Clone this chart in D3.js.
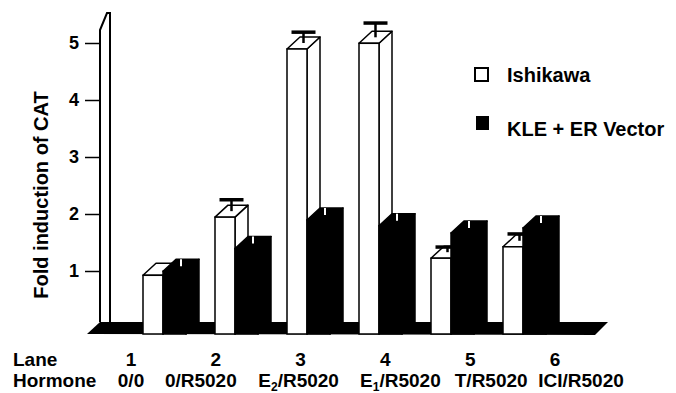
<!DOCTYPE html>
<html>
<head>
<meta charset="utf-8">
<script src="https://cdn.jsdelivr.net/npm/d3@7/dist/d3.min.js"></script>
<style>
  html, body { margin: 0; padding: 0; background: #fff; }
  svg { display: block; font-family: "Liberation Sans", Arial, sans-serif; font-weight: bold; }
</style>
</head>
<body>
<div id="chart"></div>
<script>
// lanes and hormone treatments
const lanes = ['1', '2', '3', '4', '5', '6'];
const hormones = ['0/0', '0/R5020', 'E_2/R5020', 'E_1/R5020', 'T/R5020', 'ICI/R5020'];

// fold induction of CAT
const ishikawa = [1.03, 2.05, 5.0, 5.1, 1.33, 1.53];
const ishikawaErr = [0, 0.2, 0.19, 0.25, 0.09, 0.12];
const kleER = [1.1, 1.5, 2.0, 1.9, 1.77, 1.86];

const yTicks = [1, 2, 3, 4, 5];
const seriesNames = ['Ishikawa', 'KLE + ER Vector'];

const width = 676, height = 393;
const dx = 13, dy = 12;          // 3d depth offset
const floorY = 334;              // front edge of the floor
const whiteW = 20, blackW = 23;

const svg = d3.select('#chart').append('svg')
  .attr('width', width)
  .attr('height', height);

// front plane scale, ticks sit half way back
const y = d3.scaleLinear().domain([0, 5]).range([floorY, floorY - 285]);
const yMid = d3.scaleLinear().domain([0, 5]).range([floorY - dy / 2, floorY - dy / 2 - 285]);

const x = d3.scaleBand().domain(lanes).range([128.5, 560.5]);
const labelX = d3.scalePoint().domain(lanes).range([131, 555]);

// floor
svg.append('path')
  .attr('d', `M87,${floorY} L${100},${floorY - dy} L608,${floorY - dy} L595,${floorY + 1} Z`)
  .attr('fill', '#000');

// thin 3d wall for the y axis
svg.append('path')
  .attr('d', `M100,${floorY - dy} L100,30 L107,13 L110,13 L110,${floorY - dy}`)
  .attr('fill', '#fff')
  .attr('stroke', '#000')
  .attr('stroke-width', 2);

const axis = svg.append('g')
  .attr('transform', 'translate(100,0)')
  .call(d3.axisLeft(yMid).tickValues(yTicks).tickSize(15).tickPadding(6).tickFormat(d3.format('d')));
axis.select('.domain').remove();
axis.selectAll('.tick line').attr('stroke-width', 1.5);
axis.selectAll('.tick text')
  .attr('font-size', 18)
  .attr('font-family', '"Liberation Sans", Arial, sans-serif')
  .attr('font-weight', 'bold')
  .attr('fill', '#000');

svg.append('text')
  .attr('transform', 'translate(41,195) rotate(-90)')
  .attr('text-anchor', 'middle')
  .attr('dominant-baseline', 'central')
  .attr('font-size', 20)
  .text('Fold induction of CAT');

function box(g, x0, w, v, fill) {
  const top = y(v);
  g.append('path') // side
    .attr('d', `M${x0 + w},${floorY} L${x0 + w + dx},${floorY - dy} L${x0 + w + dx},${top - dy} L${x0 + w},${top} Z`)
    .attr('fill', fill).attr('stroke', '#000').attr('stroke-width', 1.5).attr('stroke-linejoin', 'round');
  g.append('path') // top
    .attr('d', `M${x0},${top} L${x0 + dx},${top - dy} L${x0 + w + dx},${top - dy} L${x0 + w},${top} Z`)
    .attr('fill', fill).attr('stroke', '#000').attr('stroke-width', 1.5).attr('stroke-linejoin', 'round');
  g.append('rect') // front
    .attr('x', x0).attr('y', top)
    .attr('width', w).attr('height', floorY - top)
    .attr('fill', fill).attr('stroke', '#000').attr('stroke-width', 1.5);
}

lanes.forEach((lane, i) => {
  const g = svg.append('g');
  const xw = x(lane) + 14.5;
  const xb = xw + whiteW;
  box(g, xw, whiteW, ishikawa[i], '#fff');
  box(g, xb, blackW, kleER[i], '#000');

  // small white notch on the black bar top
  const cb = xb + blackW / 2 + dx / 2;
  g.append('line')
    .attr('x1', cb).attr('x2', cb)
    .attr('y1', y(kleER[i]) - dy).attr('y2', y(kleER[i]) - 5)
    .attr('stroke', '#fff').attr('stroke-width', 2);

  // error bar on the white bar
  if (ishikawaErr[i] > 0) {
    const cx = xw + whiteW / 2 + dx / 2;
    const cy = y(ishikawa[i]) - dy / 2;
    const ty = y(ishikawa[i] + ishikawaErr[i]) - dy / 2;
    g.append('line')
      .attr('x1', cx).attr('x2', cx).attr('y1', cy).attr('y2', ty)
      .attr('stroke', '#000').attr('stroke-width', 2.5);
    g.append('line')
      .attr('x1', cx - 12).attr('x2', cx + 12).attr('y1', ty).attr('y2', ty)
      .attr('stroke', '#000').attr('stroke-width', 3.5);
  }
});

// category labels
svg.append('text').attr('x', 13).attr('y', 366).attr('font-size', 19).text('Lane');
svg.append('text').attr('x', 13).attr('y', 387).attr('font-size', 19).text('Hormone');

svg.selectAll('.lane-num')
  .data(lanes)
  .enter().append('text')
  .attr('class', 'lane-num')
  .attr('x', d => labelX(d))
  .attr('y', 366)
  .attr('text-anchor', 'middle')
  .attr('font-size', 19)
  .text(d => d);

const hormoneShift = [0, -15, -2, 15, 21, 26];
const hl = svg.selectAll('.hormone')
  .data(hormones)
  .enter().append('text')
  .attr('class', 'hormone')
  .attr('x', (d, i) => labelX(lanes[i]) + hormoneShift[i])
  .attr('y', 387)
  .attr('text-anchor', 'middle')
  .attr('font-size', 19);
hl.each(function(d) {
  const t = d3.select(this);
  const m = d.match(/^(.*?)_(\d)(.*)$/);
  if (!m) { t.text(d); return; }
  t.append('tspan').text(m[1]);
  t.append('tspan').attr('font-size', 12).attr('dy', 4).text(m[2]);
  t.append('tspan').attr('dy', -4).text(m[3]);
});

// legend
const legend = svg.append('g');
legend.append('rect').attr('x', 475).attr('y', 68).attr('width', 13).attr('height', 13)
  .attr('fill', '#fff').attr('stroke', '#000').attr('stroke-width', 2);
legend.append('rect').attr('x', 476).attr('y', 116).attr('width', 13).attr('height', 14)
  .attr('fill', '#000');
legend.selectAll('.lg')
  .data(seriesNames)
  .enter().append('text')
  .attr('x', 507)
  .attr('y', (d, i) => 82 + i * 54)
  .attr('font-size', 20)
  .text(d => d);
</script>
</body>
</html>
